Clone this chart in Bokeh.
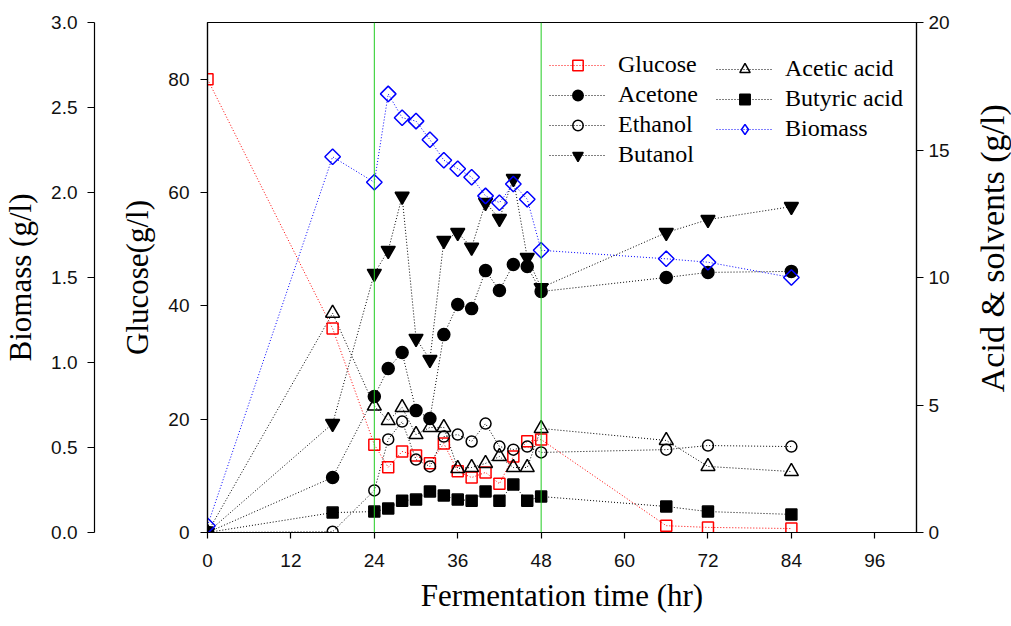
import math
from bokeh.plotting import figure
from bokeh.layouts import row
from bokeh.models import (LinearAxis, Range1d, FixedTicker, Span, Legend, LegendItem,
                          Label, NumeralTickFormatter)
from bokeh.embed import file_html
from bokeh.resources import INLINE

# ---------------- data ----------------
time_hr = [0, 18, 24, 26, 28, 30, 32, 34, 36, 38, 40, 42, 44, 46, 48, 66, 72, 84]
glucose = [80, 36.0, 15.5, 11.5, 14.3, 13.6, 12.2, 15.7, 10.8, 9.7, 10.6, 8.6, 13.4, 16.1, 16.4, 1.2, 0.9, 0.7]
acetone = [0, 2.16, 5.33, 6.43, 7.06, 4.78, 4.47, 7.76, 8.94, 8.78, 10.27, 9.49, 10.51, 10.43, 9.45, 10.0, 10.2, 10.24]
ethanol = [0, 0.03, 1.65, 3.65, 4.35, 2.86, 2.59, 3.76, 3.84, 3.57, 4.27, 3.37, 3.25, 3.37, 3.14, 3.25, 3.41, 3.37]
butanol = [0, 4.27, 10.16, 11.06, 13.18, 7.61, 6.78, 11.45, 11.76, 11.18, 12.94, 12.31, 13.88, 10.78, 9.6, 11.76, 12.27, 12.78]
acetic_acid = [0, 8.6, 4.96, 4.39, 4.9, 3.84, 4.12, 4.12, 2.51, 2.55, 2.71, 2.98, 2.55, 2.55, 4.08, 3.61, 2.59, 2.39]
butyric_acid = [0, 0.78, 0.82, 0.94, 1.25, 1.29, 1.61, 1.45, 1.29, 1.25, 1.61, 1.25, 1.88, 1.25, 1.41, 1.02, 0.82, 0.71]
biomass = [0.04, 2.21, 2.06, 2.58, 2.44, 2.42, 2.31, 2.19, 2.14, 2.09, 1.98, 1.94, 2.05, 1.96, 1.66, 1.61, 1.59, 1.50]

x_ticks = [0, 12, 24, 36, 48, 60, 72, 84, 96]
glucose_ticks = [0, 20, 40, 60, 80]
acid_ticks = [0, 5, 10, 15, 20]
biomass_ticks = [0.0, 0.5, 1.0, 1.5, 2.0, 2.5, 3.0]
phase_marks = [24, 48]

SERIF = "Liberation Serif"
SANS = "Liberation Sans"

MAIN_W, SIDE_W, H = 960, 51, 626

p = figure(width=MAIN_W, height=H, output_backend="svg", toolbar_location=None,
           x_range=Range1d(0, 102), y_range=Range1d(0, 90),
           min_border_left=206, min_border_right=44, min_border_top=22, min_border_bottom=94)
p.extra_y_ranges = {"acid": Range1d(0, 20), "biomass": Range1d(0, 3)}
p.grid.visible = False
p.outline_line_color = "black"
p.outline_line_width = 1.2
p.background_fill_color = "white"
p.border_fill_color = "white"


def style_axis(ax, tick_out=7, standoff=10, label_standoff=10, title_size="31px"):
    ax.axis_line_color = "black"
    ax.axis_line_width = 1.2
    ax.major_tick_line_color = "black"
    ax.major_tick_line_width = 1.2
    ax.major_tick_out = tick_out
    ax.major_tick_in = 0
    ax.minor_tick_out = 0
    ax.minor_tick_in = 0
    ax.major_label_text_font = SANS
    ax.major_label_text_font_size = "19px"
    ax.major_label_text_color = "#111111"
    ax.major_label_standoff = standoff
    ax.axis_label_text_font = SERIF
    ax.axis_label_text_font_size = title_size
    ax.axis_label_text_font_style = "normal"
    ax.axis_label_text_color = "black"
    ax.axis_label_standoff = label_standoff


xa = p.xaxis[0]
xa.ticker = FixedTicker(ticks=x_ticks)
xa.axis_label = "Fermentation time (hr)"
style_axis(xa, tick_out=6, standoff=15, label_standoff=8)

ga = p.yaxis[0]
ga.ticker = FixedTicker(ticks=glucose_ticks)
ga.axis_label = "Glucose(g/l)"
style_axis(ga, tick_out=7, standoff=11, label_standoff=10)

# invisible spacer between the glucose axis and the biomass axis
spacer = LinearAxis(y_range_name="biomass", ticker=FixedTicker(ticks=[0]),
                    major_label_overrides={0: ""})
spacer.axis_line_alpha = 0
spacer.major_tick_line_alpha = 0
spacer.major_tick_out = 23
spacer.major_tick_in = 0
spacer.minor_tick_out = 0
spacer.minor_tick_in = 0
spacer.major_label_standoff = 0
spacer.major_label_text_font_size = "1px"
p.add_layout(spacer, "left")

ba = LinearAxis(y_range_name="biomass", ticker=FixedTicker(ticks=biomass_ticks),
                formatter=NumeralTickFormatter(format="0.0"), axis_label="Biomass (g/l)")
style_axis(ba, tick_out=7, standoff=10, label_standoff=10)
p.add_layout(ba, "left")

ra = LinearAxis(y_range_name="acid", ticker=FixedTicker(ticks=acid_ticks))
style_axis(ra, tick_out=7, standoff=5)
p.add_layout(ra, "right")

for t in phase_marks:
    p.add_layout(Span(location=t, dimension="height", line_color="#22cc22", line_width=1))

DASH = "1 2"
series = [
    ("Glucose", glucose, "default", "#ff0000", "square", 11, None, 0),
    ("Acetone", acetone, "acid", "black", "circle", 12, "black", 0),
    ("Ethanol", ethanol, "acid", "black", "circle", 11, None, 0),
    ("Butanol", butanol, "acid", "black", "inverted_triangle", 14, "black", 0),
    ("Acetic acid", acetic_acid, "acid", "black", "triangle", 14, None, 0),
    ("Butyric acid", butyric_acid, "acid", "black", "square", 11, "black", 0),
    ("Biomass", biomass, "biomass", "#0000ff", "square", 11, None, math.pi / 4),
]

lines = {}
for name, vals, rng, col, mk, sz, fill, ang in series:
    lines[name] = p.line(time_hr, vals, y_range_name=rng, line_color=col,
                         line_width=1, line_dash=DASH)
marks = {}
for name, vals, rng, col, mk, sz, fill, ang in series:
    marks[name] = p.scatter(time_hr, vals, y_range_name=rng, marker=mk, size=sz,
                            angle=ang, line_color=col, line_width=1.5,
                            fill_color=fill, fill_alpha=1.0 if fill else 0)

# legend-only proxy so the legend shows a diamond (legend glyphs ignore angle)
legend_marks = dict(marks)
legend_marks["Biomass"] = p.scatter([float("nan")], [float("nan")], y_range_name="biomass",
                                    marker="diamond", size=15, line_color="#0000ff",
                                    line_width=1.5, fill_alpha=0)


def make_legend(names, loc):
    items = [LegendItem(label=n, renderers=[lines[n], legend_marks[n]]) for n in names]
    lg = Legend(items=items, location=loc)
    lg.label_text_font = SERIF
    lg.label_text_font_size = "24px"
    lg.label_text_color = "black"
    lg.glyph_width = 57
    lg.glyph_height = 26
    lg.label_height = 26
    lg.spacing = 3
    lg.padding = 0
    lg.margin = 0
    lg.label_standoff = 12
    lg.border_line_color = None
    lg.background_fill_alpha = 0
    return lg


p.add_layout(make_legend(["Glucose", "Acetone", "Ethanol", "Butanol"], (342, 364)))
p.add_layout(make_legend(["Acetic acid", "Butyric acid", "Biomass"], (509, 390)))

# narrow side strip carrying the right-hand axis title (reads bottom to top)
side = figure(width=SIDE_W, height=H, output_backend="svg", toolbar_location=None,
              x_range=Range1d(0, SIDE_W), y_range=Range1d(0, H),
              x_axis_type=None, y_axis_type=None, min_border=0)
side.outline_line_color = None
side.background_fill_color = "white"
side.border_fill_color = "white"
side.add_layout(Label(x=32, y=H - 277, text="Acid & solvents (g/l)", angle=math.pi / 2,
                      text_align="center", text_baseline="middle",
                      text_font=SERIF, text_font_size="34px", text_color="black"))

layout = row(p, side, spacing=0)
open("out.html", "w").write(file_html(layout, INLINE))
